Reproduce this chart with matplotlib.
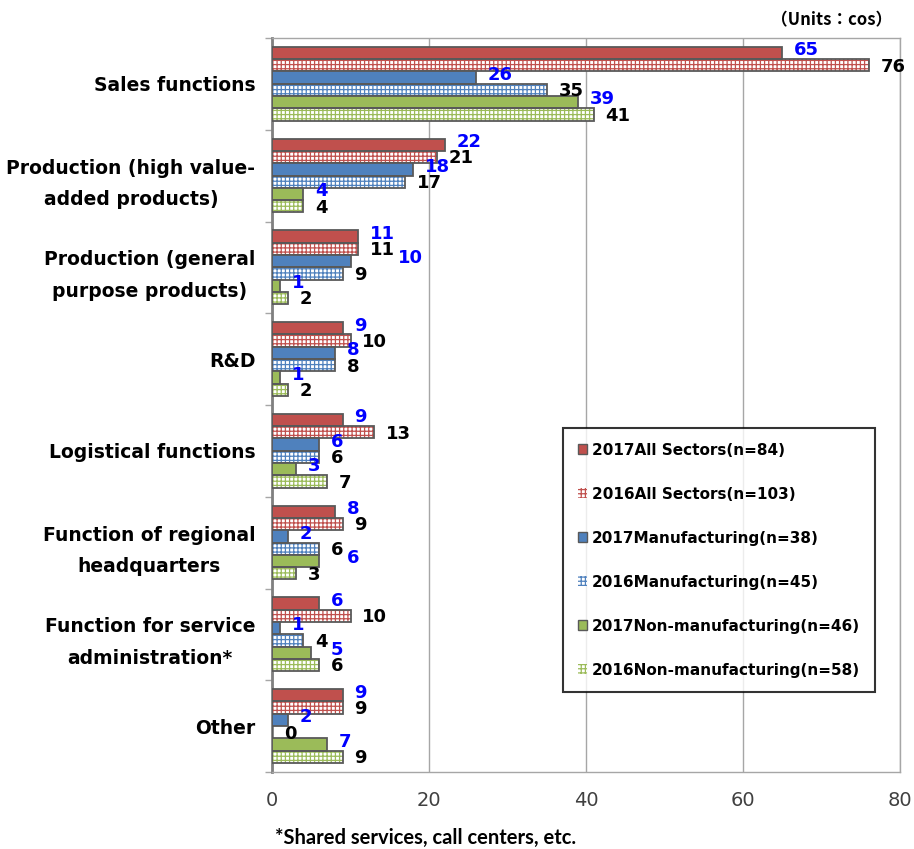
import matplotlib
matplotlib.use("Agg")
import matplotlib.pyplot as plt
from matplotlib.patches import Patch
import numpy as np

categories = [
    "Sales functions",
    "Production (high value-\nadded products)",
    "Production (general\npurpose products)",
    "R&D",
    "Logistical functions",
    "Function of regional\nheadquarters",
    "Function for service\nadministration*",
    "Other",
]
series_names = [
    "2017All Sectors(n=84)",
    "2016All Sectors(n=103)",
    "2017Manufacturing(n=38)",
    "2016Manufacturing(n=45)",
    "2017Non-manufacturing(n=46)",
    "2016Non-manufacturing(n=58)",
]
all_2017 = [65, 22, 11, 9, 9, 8, 6, 9]
all_2016 = [76, 21, 11, 10, 13, 9, 10, 9]
mfg_2017 = [26, 18, 10, 8, 6, 2, 1, 2]
mfg_2016 = [35, 17, 9, 8, 6, 6, 4, 0]
non_2017 = [39, 4, 1, 1, 3, 6, 5, 7]
non_2016 = [41, 4, 2, 2, 7, 3, 6, 9]
series_values = [all_2017, all_2016, mfg_2017, mfg_2016, non_2017, non_2016]
x_ticks = [0, 20, 40, 60, 80]

RED, BLUE, GREEN = "#C0504D", "#4F81BD", "#9BBB59"
colors = [RED, RED, BLUE, BLUE, GREEN, GREEN]
hatched = [False, True, False, True, False, True]
label_colors = ["#0000FF", "black"] * 3
EDGE = "#595959"

plt.rcParams["hatch.linewidth"] = 0.9

fig = plt.figure(figsize=(9.14, 8.49), dpi=100)
ax = fig.add_axes([272 / 914, 77 / 849, 628 / 914, 734 / 849])

n_cat = len(categories)
bar_h = 0.134
start = 0.097
labels = [[None] * 6 for _ in range(n_cat)]
for j, vals in enumerate(series_values):
    y = np.arange(n_cat) + start + (j + 0.5) * bar_h
    if hatched[j]:
        ax.barh(y, vals, height=bar_h, color="white", edgecolor=colors[j],
                hatch="++++", linewidth=0, zorder=3)
        ax.barh(y, vals, height=bar_h, fill=False, edgecolor=EDGE,
                linewidth=1.3, zorder=4)
    else:
        ax.barh(y, vals, height=bar_h, color=colors[j], edgecolor=EDGE,
                linewidth=1.3, zorder=4)
    dy = 2 if label_colors[j] != "black" else -1
    for k, (yy, v) in enumerate(zip(y, vals)):
        labels[k][j] = ax.annotate(str(v), (v, yy), xytext=(8.5, dy),
                                   textcoords="offset points",
                                   ha="left", va="center", fontsize=13,
                                   fontweight="bold", color=label_colors[j],
                                   zorder=6)

ax.set_xlim(0, 80)
ax.set_ylim(n_cat, 0)
ax.set_xticks(x_ticks)
ax.set_xticklabels([str(t) for t in x_ticks])
ax.tick_params(axis="x", length=0, pad=14, labelsize=14, labelcolor="#404040")
ax.set_yticks(np.arange(n_cat) + 0.5)
ax.set_yticklabels(categories, fontsize=13.5, fontweight="bold",
                   linespacing=1.85, multialignment="center")
ax.set_yticks(np.arange(n_cat + 1), minor=True)
ax.tick_params(axis="y", which="major", length=0, pad=12)
ax.tick_params(axis="y", which="minor", length=5, width=1, color="#A6A6A6",
               direction="out")
ax.grid(axis="x", color="#A6A6A6", linewidth=1, zorder=0)
for s in ["top", "right", "bottom"]:
    ax.spines[s].set_color("#A6A6A6")
    ax.spines[s].set_linewidth(1)
ax.spines["left"].set_color("#808080")
ax.spines["left"].set_linewidth(2)
ax.set_axisbelow(True)

# nudge a blue label right when it runs into the black label just above it
fig.canvas.draw()
renderer = fig.canvas.get_renderer()
for k in range(n_cat):
    for j in (2, 4):
        prev = labels[k][j - 1].get_window_extent(renderer)
        cur = labels[k][j].get_window_extent(renderer)
        ov = min(prev.x1, cur.x1) - max(prev.x0, cur.x0)
        if ov > 3:
            shift = (prev.x1 - cur.x0 + 3) * 72 / fig.dpi
            x0, y0 = labels[k][j].xyann
            labels[k][j].xyann = (x0 + shift, y0)

handles = []
for j in range(6):
    if hatched[j]:
        handles.append(Patch(facecolor="white", edgecolor=colors[j], hatch="++++",
                             linewidth=0))
    else:
        handles.append(Patch(facecolor=colors[j], edgecolor=EDGE, linewidth=1))
leg = ax.legend(handles, series_names, loc="upper left",
                bbox_to_anchor=((563 - 272) / 628, (772 - 428) / 734),
                frameon=True, fancybox=False, edgecolor="black",
                prop={"weight": "bold", "size": 11},
                handlelength=0.65, handleheight=0.65, handletextpad=0.3,
                labelspacing=1.9, borderpad=0.95, borderaxespad=0)
leg.get_frame().set_linewidth(1.5)

fig.text(892 / 914, 1 - 20 / 849, "（Units：cos）", ha="right", va="center",
         fontsize=12, fontweight="bold",
         family=["Noto Sans CJK JP", "DejaVu Sans"])
fig.text(907 / 914, 1 - 10 / 849, "（", ha="left", va="center",
         fontsize=10.5, family=["Noto Sans CJK JP", "DejaVu Sans"])
fig.text(275 / 914, 1 - 838 / 849, "*Shared services, call centers, etc.",
         ha="left", va="center", fontsize=14.5, fontweight="bold", family="Lato")

fig.savefig("out.png", dpi=100)
